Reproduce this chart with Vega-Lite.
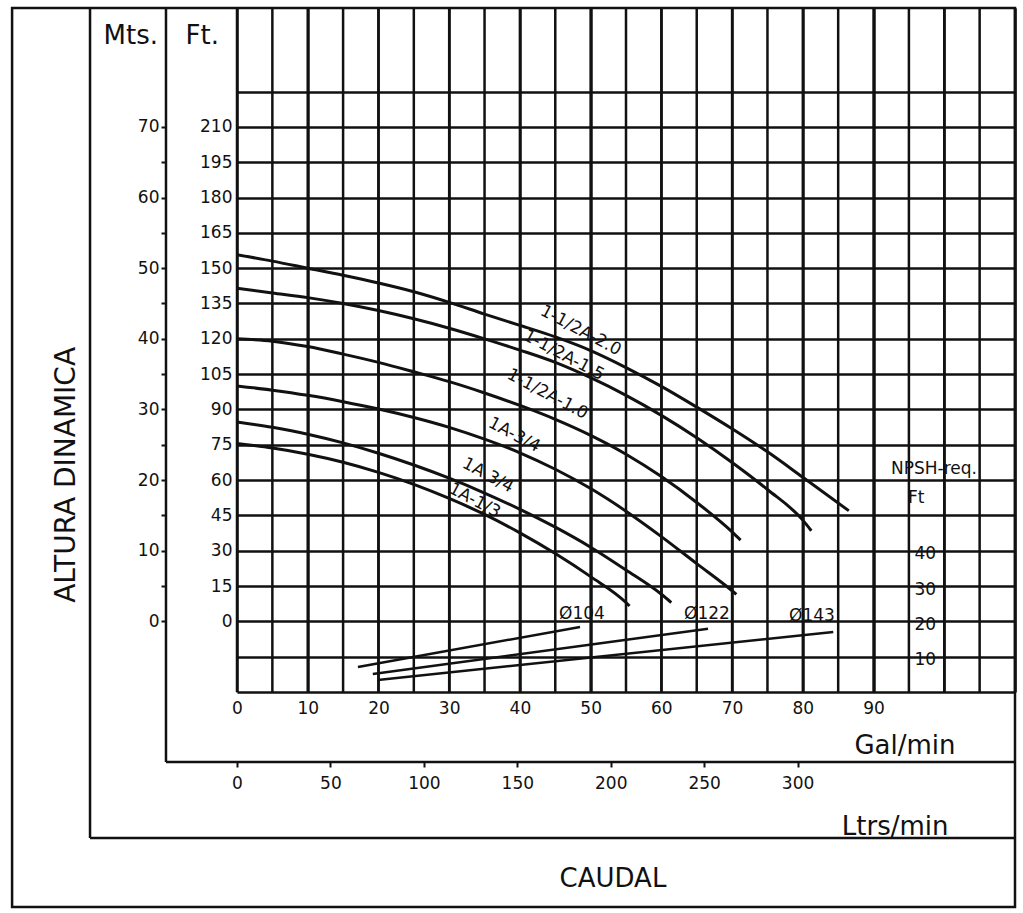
{
  "$schema": "https://vega.github.io/schema/vega-lite/v6.json",
  "width": 778,
  "height": 684,
  "autosize": {"type": "none"},
  "padding": {"left": 237, "top": 8, "right": 8, "bottom": 221},
  "background": "white",
  "config": {
    "view": {"stroke": null},
    "font": "DejaVu Sans",
    "text": {"font": "DejaVu Sans", "color": "#111"},
    "axis": {
      "labelFont": "DejaVu Sans", "titleFont": "DejaVu Sans",
      "labelColor": "#111", "titleColor": "#111", "titleFontWeight": "normal",
      "gridColor": "#111", "gridOpacity": 1, "gridWidth": 2.5,
      "tickColor": "#111", "tickWidth": 2,
      "labelFontSize": 17, "titleFontSize": 26,
      "labelFlush": false, "labelOverlap": false, "labelBound": false
    }
  },
  "resolve": {"scale": {"x": "independent", "y": "independent"}},
  "layer": [
    {
      "layer": [
        {
          "data": {"values": [
            {"c": "1-1/2A-2.0", "gpm": 0, "ft": 155.7}, {"c": "1-1/2A-2.0", "gpm": 5, "ft": 153}, {"c": "1-1/2A-2.0", "gpm": 10, "ft": 150}, {"c": "1-1/2A-2.0", "gpm": 15, "ft": 147}, {"c": "1-1/2A-2.0", "gpm": 20, "ft": 143.7}, {"c": "1-1/2A-2.0", "gpm": 25, "ft": 140}, {"c": "1-1/2A-2.0", "gpm": 30, "ft": 135.5}, {"c": "1-1/2A-2.0", "gpm": 35, "ft": 130.5}, {"c": "1-1/2A-2.0", "gpm": 40, "ft": 125.7}, {"c": "1-1/2A-2.0", "gpm": 45, "ft": 120.8}, {"c": "1-1/2A-2.0", "gpm": 50, "ft": 115}, {"c": "1-1/2A-2.0", "gpm": 55, "ft": 107.8}, {"c": "1-1/2A-2.0", "gpm": 60, "ft": 99.8}, {"c": "1-1/2A-2.0", "gpm": 65, "ft": 91}, {"c": "1-1/2A-2.0", "gpm": 70, "ft": 81.8}, {"c": "1-1/2A-2.0", "gpm": 75, "ft": 72}, {"c": "1-1/2A-2.0", "gpm": 80, "ft": 61.2}, {"c": "1-1/2A-2.0", "gpm": 86.5, "ft": 47},
            {"c": "1-1/2A-1.5", "gpm": 0, "ft": 141.5}, {"c": "1-1/2A-1.5", "gpm": 5, "ft": 139.5}, {"c": "1-1/2A-1.5", "gpm": 10, "ft": 137.5}, {"c": "1-1/2A-1.5", "gpm": 15, "ft": 135}, {"c": "1-1/2A-1.5", "gpm": 20, "ft": 132}, {"c": "1-1/2A-1.5", "gpm": 25, "ft": 128.5}, {"c": "1-1/2A-1.5", "gpm": 30, "ft": 124.5}, {"c": "1-1/2A-1.5", "gpm": 35, "ft": 120}, {"c": "1-1/2A-1.5", "gpm": 40, "ft": 115.2}, {"c": "1-1/2A-1.5", "gpm": 45, "ft": 110}, {"c": "1-1/2A-1.5", "gpm": 50, "ft": 103.5}, {"c": "1-1/2A-1.5", "gpm": 55, "ft": 96}, {"c": "1-1/2A-1.5", "gpm": 60, "ft": 87.5}, {"c": "1-1/2A-1.5", "gpm": 65, "ft": 78}, {"c": "1-1/2A-1.5", "gpm": 70, "ft": 67.5}, {"c": "1-1/2A-1.5", "gpm": 75, "ft": 56}, {"c": "1-1/2A-1.5", "gpm": 80, "ft": 43}, {"c": "1-1/2A-1.5", "gpm": 81.2, "ft": 38.5},
            {"c": "1-1/2A-1.0", "gpm": 0, "ft": 120}, {"c": "1-1/2A-1.0", "gpm": 5, "ft": 119}, {"c": "1-1/2A-1.0", "gpm": 10, "ft": 116.7}, {"c": "1-1/2A-1.0", "gpm": 15, "ft": 113.5}, {"c": "1-1/2A-1.0", "gpm": 20, "ft": 110}, {"c": "1-1/2A-1.0", "gpm": 25, "ft": 106}, {"c": "1-1/2A-1.0", "gpm": 30, "ft": 101.8}, {"c": "1-1/2A-1.0", "gpm": 35, "ft": 97}, {"c": "1-1/2A-1.0", "gpm": 40, "ft": 91.7}, {"c": "1-1/2A-1.0", "gpm": 45, "ft": 85.8}, {"c": "1-1/2A-1.0", "gpm": 50, "ft": 79}, {"c": "1-1/2A-1.0", "gpm": 55, "ft": 71}, {"c": "1-1/2A-1.0", "gpm": 60, "ft": 61.5}, {"c": "1-1/2A-1.0", "gpm": 65, "ft": 50.5}, {"c": "1-1/2A-1.0", "gpm": 70, "ft": 38}, {"c": "1-1/2A-1.0", "gpm": 71.2, "ft": 34.5},
            {"c": "1A-3/4", "gpm": 0, "ft": 100}, {"c": "1A-3/4", "gpm": 5, "ft": 98.2}, {"c": "1A-3/4", "gpm": 10, "ft": 96}, {"c": "1A-3/4", "gpm": 15, "ft": 93.3}, {"c": "1A-3/4", "gpm": 20, "ft": 90.2}, {"c": "1A-3/4", "gpm": 25, "ft": 86.6}, {"c": "1A-3/4", "gpm": 30, "ft": 82.4}, {"c": "1A-3/4", "gpm": 35, "ft": 77.4}, {"c": "1A-3/4", "gpm": 40, "ft": 71.6}, {"c": "1A-3/4", "gpm": 45, "ft": 64.6}, {"c": "1A-3/4", "gpm": 50, "ft": 56.4}, {"c": "1A-3/4", "gpm": 55, "ft": 46.8}, {"c": "1A-3/4", "gpm": 60, "ft": 36}, {"c": "1A-3/4", "gpm": 65, "ft": 24.5}, {"c": "1A-3/4", "gpm": 70, "ft": 13}, {"c": "1A-3/4", "gpm": 70.6, "ft": 11.5},
            {"c": "1A 3/4", "gpm": 0, "ft": 84.7}, {"c": "1A 3/4", "gpm": 5, "ft": 82.4}, {"c": "1A 3/4", "gpm": 10, "ft": 79.5}, {"c": "1A 3/4", "gpm": 15, "ft": 75.8}, {"c": "1A 3/4", "gpm": 20, "ft": 71.4}, {"c": "1A 3/4", "gpm": 25, "ft": 66.4}, {"c": "1A 3/4", "gpm": 30, "ft": 60.8}, {"c": "1A 3/4", "gpm": 35, "ft": 54.5}, {"c": "1A 3/4", "gpm": 40, "ft": 47.6}, {"c": "1A 3/4", "gpm": 45, "ft": 40}, {"c": "1A 3/4", "gpm": 50, "ft": 31.5}, {"c": "1A 3/4", "gpm": 55, "ft": 21.8}, {"c": "1A 3/4", "gpm": 60, "ft": 11.5}, {"c": "1A 3/4", "gpm": 61.4, "ft": 8},
            {"c": "1A-1/3", "gpm": 0, "ft": 75.5}, {"c": "1A-1/3", "gpm": 5, "ft": 73.6}, {"c": "1A-1/3", "gpm": 10, "ft": 71}, {"c": "1A-1/3", "gpm": 15, "ft": 67.6}, {"c": "1A-1/3", "gpm": 20, "ft": 63.3}, {"c": "1A-1/3", "gpm": 25, "ft": 58.2}, {"c": "1A-1/3", "gpm": 30, "ft": 52.2}, {"c": "1A-1/3", "gpm": 35, "ft": 45.4}, {"c": "1A-1/3", "gpm": 40, "ft": 37.6}, {"c": "1A-1/3", "gpm": 45, "ft": 28.8}, {"c": "1A-1/3", "gpm": 50, "ft": 19}, {"c": "1A-1/3", "gpm": 55, "ft": 8}, {"c": "1A-1/3", "gpm": 55.5, "ft": 6.5}
          ]},
          "mark": {"type": "line", "color": "#111", "strokeWidth": 3, "interpolate": "monotone"},
          "encoding": {
            "x": {
              "field": "gpm", "type": "quantitative",
              "scale": {"domain": [0, 110], "nice": false, "zero": false},
              "axis": {
                "orient": "bottom", "title": "Gal/min",
                "values": [0,5,10,15,20,25,30,35,40,45,50,55,60,65,70,75,80,85,90,95,100,105,110],
                "grid": true, "domain": false, "ticks": false,
                "labelExpr": "datum.value % 10 === 0 && datum.value <= 90 ? datum.label : ''",
                "labelPadding": 8,
                "titleX": 718, "titleY": 53, "titleAlign": "right", "titleBaseline": "middle"
              }
            },
            "y": {
              "field": "ft", "type": "quantitative",
              "scale": {"domain": [-30, 260.5], "nice": false, "zero": false},
              "axis": {
                "orient": "left", "title": "Ft.",
                "values": [-30,-15,0,15,30,45,60,75,90,105,120,135,150,165,180,195,210,225],
                "grid": true, "domain": false, "ticks": false,
                "labelExpr": "datum.value >= 0 && datum.value <= 210 ? datum.label : ''",
                "labelPadding": 5,
                "titleAngle": 0, "titleX": -52, "titleY": 27, "titleAlign": "left", "titleBaseline": "middle"
              }
            },
            "detail": {"field": "c"}
          }
        },
        {
          "data": {"values": [{"g": 0}, {"g": 5}, {"g": 10}, {"g": 15}, {"g": 20}, {"g": 25}, {"g": 30}, {"g": 35}, {"g": 40}, {"g": 45}, {"g": 50}, {"g": 55}, {"g": 60}, {"g": 65}, {"g": 70}, {"g": 75}, {"g": 80}, {"g": 85}, {"g": 90}, {"g": 95}, {"g": 100}, {"g": 105}, {"g": 110}]},
          "mark": {"type": "rule", "color": "#111", "strokeWidth": 2.5},
          "encoding": {
            "x": {"field": "g", "type": "quantitative"},
            "y": {"datum": -30, "type": "quantitative"}, "y2": {"datum": 260.5}
          }
        },
        {
          "data": {"values": [{}]},
          "mark": {"type": "rect", "fillOpacity": 0, "stroke": "#111", "strokeWidth": 2.5},
          "encoding": {
            "x": {"datum": -31.8, "type": "quantitative"}, "x2": {"datum": 110},
            "y": {"datum": 260.5, "type": "quantitative"}, "y2": {"datum": -121.3}
          }
        },
        {
          "data": {"values": [{}]},
          "mark": {"type": "rule", "color": "#111", "strokeWidth": 2.5},
          "encoding": {
            "x": {"datum": -20.78, "type": "quantitative"},
            "y": {"datum": 260.5, "type": "quantitative"}, "y2": {"datum": -92.0}
          }
        },
        {
          "data": {"values": [{}]},
          "mark": {"type": "rule", "color": "#111", "strokeWidth": 2.5},
          "encoding": {
            "x": {"datum": -20.78, "type": "quantitative"}, "x2": {"datum": 110},
            "y": {"datum": -92.0, "type": "quantitative"}
          }
        },
        {
          "data": {"values": [{}]},
          "mark": {"type": "rule", "color": "#111", "strokeWidth": 2.5},
          "encoding": {
            "x": {"datum": -10.04, "type": "quantitative"},
            "y": {"datum": 260.5, "type": "quantitative"}, "y2": {"datum": -59.7}
          }
        },
        {
          "data": {"values": [{}]},
          "mark": {"type": "rule", "color": "#111", "strokeWidth": 2.5},
          "encoding": {
            "x": {"datum": -10.04, "type": "quantitative"}, "x2": {"datum": 110},
            "y": {"datum": -59.7, "type": "quantitative"}
          }
        },
        {
          "data": {"values": [
            {"label": "1-1/2A-2.0", "gpm": 48.6, "ft": 123.5},
            {"label": "1-1/2A-1.5", "gpm": 46.2, "ft": 113.0},
            {"label": "1-1/2A-1.0", "gpm": 43.9, "ft": 96.5},
            {"label": "1A-3/4", "gpm": 39.2, "ft": 79.2},
            {"label": "1A 3/4", "gpm": 35.5, "ft": 62.0},
            {"label": "1A-1/3", "gpm": 33.6, "ft": 51.3}
          ]},
          "mark": {"type": "text", "fontSize": 17, "angle": 28, "align": "center", "baseline": "middle", "color": "#111"},
          "encoding": {
            "x": {"field": "gpm", "type": "quantitative"},
            "y": {"field": "ft", "type": "quantitative"},
            "text": {"field": "label"}
          }
        },
        {
          "data": {"values": [{}]},
          "mark": {"type": "text", "fontSize": 28, "angle": 270, "align": "center", "baseline": "middle", "color": "#111"},
          "encoding": {
            "x": {"datum": -24.04, "type": "quantitative"},
            "y": {"datum": 62.2, "type": "quantitative"},
            "text": {"value": "ALTURA DINAMICA"}
          }
        },
        {
          "data": {"values": [{}]},
          "mark": {"type": "text", "fontSize": 26, "align": "center", "baseline": "middle", "color": "#111"},
          "encoding": {
            "x": {"datum": 53.16, "type": "quantitative"},
            "y": {"datum": -109.4, "type": "quantitative"},
            "text": {"value": "CAUDAL"}
          }
        },
        {
          "data": {"values": [{}]},
          "mark": {"type": "text", "fontSize": 17, "align": "left", "baseline": "middle", "color": "#111"},
          "encoding": {
            "x": {"datum": 92.47, "type": "quantitative"},
            "y": {"datum": 64.7, "type": "quantitative"},
            "text": {"value": "NPSH-req."}
          }
        },
        {
          "data": {"values": [{}]},
          "mark": {"type": "text", "fontSize": 17, "align": "left", "baseline": "middle", "color": "#111"},
          "encoding": {
            "x": {"datum": 94.87, "type": "quantitative"},
            "y": {"datum": 52.4, "type": "quantitative"},
            "text": {"value": "Ft"}
          }
        }
      ]
    },
    {
      "data": {"values": [{"m": 0}, {"m": 10}, {"m": 20}, {"m": 30}, {"m": 40}, {"m": 50}, {"m": 60}, {"m": 70}]},
      "mark": {"type": "point", "opacity": 0},
      "encoding": {
        "y": {
          "field": "m", "type": "quantitative",
          "scale": {"domain": [-10, 86.8333], "nice": false, "zero": false},
          "axis": {
            "orient": "left", "offset": 71, "title": "Mts.",
            "values": [0,5,10,15,20,25,30,35,40,45,50,55,60,65,70],
            "grid": false, "domain": false, "ticks": true, "tickSize": 5,
            "labelExpr": "datum.value % 10 === 0 ? datum.label : ''",
            "labelPadding": 2,
            "titleAngle": 0, "titleX": -63, "titleY": 27, "titleAlign": "left", "titleBaseline": "middle"
          }
        }
      }
    },
    {
      "data": {"values": [{"L": 0}, {"L": 50}, {"L": 100}, {"L": 150}, {"L": 200}, {"L": 250}, {"L": 300}]},
      "mark": {"type": "point", "opacity": 0},
      "encoding": {
        "x": {
          "field": "L", "type": "quantitative",
          "scale": {"domain": [0, 416.35], "nice": false, "zero": false},
          "axis": {
            "orient": "bottom", "offset": 70, "title": "Ltrs/min",
            "values": [0,50,100,150,200,250,300],
            "grid": false, "domain": false, "ticks": true, "tickSize": 5,
            "labelPadding": 8,
            "titleX": 711, "titleY": 64, "titleAlign": "right", "titleBaseline": "middle"
          }
        }
      }
    },
    {
      "layer": [
        {
          "data": {"values": [
            {"d": "Ø104", "gpm": 17.1, "npsh": 7.1}, {"d": "Ø104", "gpm": 48.5, "npsh": 18.4},
            {"d": "Ø122", "gpm": 19.2, "npsh": 5.1}, {"d": "Ø122", "gpm": 66.6, "npsh": 17.9},
            {"d": "Ø143", "gpm": 19.9, "npsh": 3.4}, {"d": "Ø143", "gpm": 84.3, "npsh": 17.0}
          ]},
          "mark": {"type": "line", "color": "#111", "strokeWidth": 2.5},
          "encoding": {
            "x": {"field": "gpm", "type": "quantitative", "scale": {"domain": [0, 110], "nice": false, "zero": false}, "axis": null},
            "y": {
              "field": "npsh", "type": "quantitative",
              "scale": {"domain": [0, 193.667], "nice": false, "zero": false},
              "axis": {
                "orient": "right", "offset": -106, "title": null,
                "values": [10, 20, 30, 40],
                "grid": false, "domain": false, "ticks": false,
                "labelPadding": 5, "labelOffset": 3
              }
            },
            "detail": {"field": "d"}
          }
        },
        {
          "data": {"values": [
            {"d": "Ø104", "gpm": 48.78, "npsh": 22.1},
            {"d": "Ø122", "gpm": 66.45, "npsh": 22.1},
            {"d": "Ø143", "gpm": 81.3, "npsh": 21.5}
          ]},
          "mark": {"type": "text", "fontSize": 17, "align": "center", "baseline": "middle", "color": "#111"},
          "encoding": {
            "x": {"field": "gpm", "type": "quantitative"},
            "y": {"field": "npsh", "type": "quantitative"},
            "text": {"field": "d"}
          }
        }
      ]
    }
  ]
}
